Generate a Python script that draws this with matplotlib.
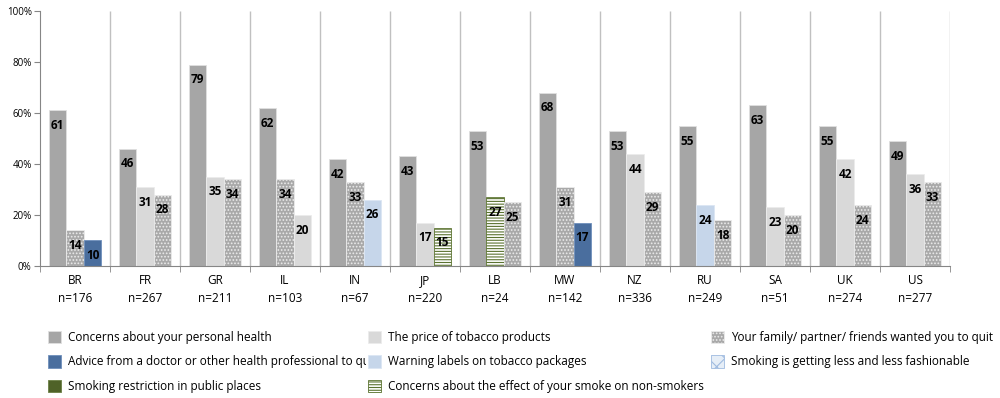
import numpy as np
import matplotlib
matplotlib.use('Agg')
from matplotlib import pyplot as plt
from matplotlib.patches import Rectangle
from matplotlib.transforms import Bbox, TransformedBbox

plt.rcParams['font.family'] = ['Open Sans', 'DejaVu Sans']
plt.rcParams['hatch.linewidth'] = 0.8

countries = ['BR', 'FR', 'GR', 'IL', 'IN', 'JP', 'LB', 'MW', 'NZ', 'RU', 'SA', 'UK', 'US']
n_sizes = [176, 267, 211, 103, 67, 220, 24, 142, 336, 249, 51, 274, 277]

# three top reasons per country, in the order drawn
slot1_cat = ['health'] * 13
slot1_val = [61, 46, 79, 62, 42, 43, 53, 68, 53, 55, 63, 55, 49]
slot2_cat = ['family', 'price', 'price', 'family', 'family', 'price', 'nonsmokers',
             'family', 'price', 'warning', 'price', 'price', 'price']
slot2_val = [14, 31, 35, 34, 33, 17, 27, 31, 44, 24, 23, 42, 36]
slot3_cat = ['advice', 'family', 'family', 'price', 'warning', 'nonsmokers', 'family',
             'advice', 'family', 'family', 'family', 'family', 'family']
slot3_val = [10, 28, 34, 20, 26, 15, 25, 17, 29, 18, 20, 24, 33]

legend_keys = ['health', 'price', 'family',
               'advice', 'warning', 'fashion',
               'restriction', 'nonsmokers']
legend_labels = ['Concerns about your personal health',
                 'The price of tobacco products',
                 'Your family/ partner/ friends wanted you to quit',
                 'Advice from a doctor or other health professional to quit',
                 'Warning labels on tobacco packages',
                 'Smoking is getting less and less fashionable',
                 'Smoking restriction in public places',
                 'Concerns about the effect of your smoke on non-smokers']

styles = {
    'health': dict(facecolor='#a6a6a6', edgecolor='#e0e0e0', hatch=None),
    'price': dict(facecolor='#d9d9d9', edgecolor='#ececec', hatch=None),
    'family': dict(facecolor='#a9a9a9', edgecolor='#ebebeb', hatch='.....'),
    'advice': dict(facecolor='#4a6e9e', edgecolor='#6f8fbb', hatch=None),
    'warning': dict(facecolor='#c6d6ea', edgecolor='#dbe6f3', hatch=None),
    'fashion': dict(facecolor='#e6eef7', edgecolor='#9fbbe0', hatch='xx'),
    'restriction': dict(facecolor='#4f6228', edgecolor='#6b7f45', hatch=None),
    'nonsmokers': dict(facecolor='white', edgecolor='#5b7330', hatch='------'),
}

fig = plt.figure(figsize=(10, 3.98), dpi=100)
ax = fig.add_axes([0.04, 0.332, 0.91, 0.640])

x = np.arange(len(countries))
width = 0.25
slots = [(slot1_cat, slot1_val), (slot2_cat, slot2_val), (slot3_cat, slot3_val)]
for k, (cats, vals) in enumerate(slots):
    for i in range(len(countries)):
        st = styles[cats[i]]
        v = vals[i] / 100
        ax.bar(x[i] + (k - 1) * width, v, width, facecolor=st['facecolor'],
               edgecolor=st['edgecolor'], hatch=st['hatch'], linewidth=0.6, zorder=2)
        ax.annotate(str(vals[i]), (x[i] + (k - 1) * width, v), xytext=(0, -11),
                    textcoords='offset points', ha='center', va='center',
                    fontsize=8.5, fontweight='bold', color='black', zorder=3)

# group separators
bounds = np.arange(len(countries) + 1) - 0.5
ax.vlines(bounds[1:], 0, 1, color='#c0c0c0', linewidth=1, zorder=1)

ax.set_xlim(-0.5, len(countries) - 0.5)
ax.set_ylim(0, 1)
ax.set_yticks(np.arange(0, 1.01, 0.2))
ax.set_yticklabels([f'{int(t * 100)}%' for t in np.arange(0, 1.01, 0.2)])
ax.set_xticks(x)
ax.set_xticklabels([f'{c}\nn={n}' for c, n in zip(countries, n_sizes)], fontsize=8.5,
                   linespacing=1.5)
ax.set_xticks(bounds, minor=True)
ax.tick_params(axis='x', which='major', length=0, pad=6)
ax.tick_params(axis='x', which='minor', length=4, color='#868686')
ax.tick_params(axis='y', length=4, color='#868686', labelsize=7, pad=2)
for side in ['top', 'right']:
    ax.spines[side].set_visible(False)
for side in ['left', 'bottom']:
    ax.spines[side].set_color('#868686')

# legend drawn by hand so the long first-column entry is cut like the original
col_x = [0.048, 0.368, 0.711]
row_y = [0.153, 0.091, 0.030]
sq_w, sq_h = 0.013, 0.032
for j, (key, label) in enumerate(zip(legend_keys, legend_labels)):
    r, c = divmod(j, 3)
    st = styles[key]
    fig.add_artist(Rectangle((col_x[c], row_y[r] - sq_h / 2), sq_w, sq_h,
                             transform=fig.transFigure, facecolor=st['facecolor'],
                             edgecolor=st['edgecolor'], hatch=st['hatch'], linewidth=0.6))
    t = fig.text(col_x[c] + 0.02, row_y[r], label, fontsize=8.5, va='center', ha='left')
    if c < 2:
        right = col_x[c + 1] - 0.002
        t.set_clip_box(TransformedBbox(Bbox([[0, 0], [right, 1]]), fig.transFigure))
        t.set_clip_on(True)

fig.savefig('out.png', dpi=100)
